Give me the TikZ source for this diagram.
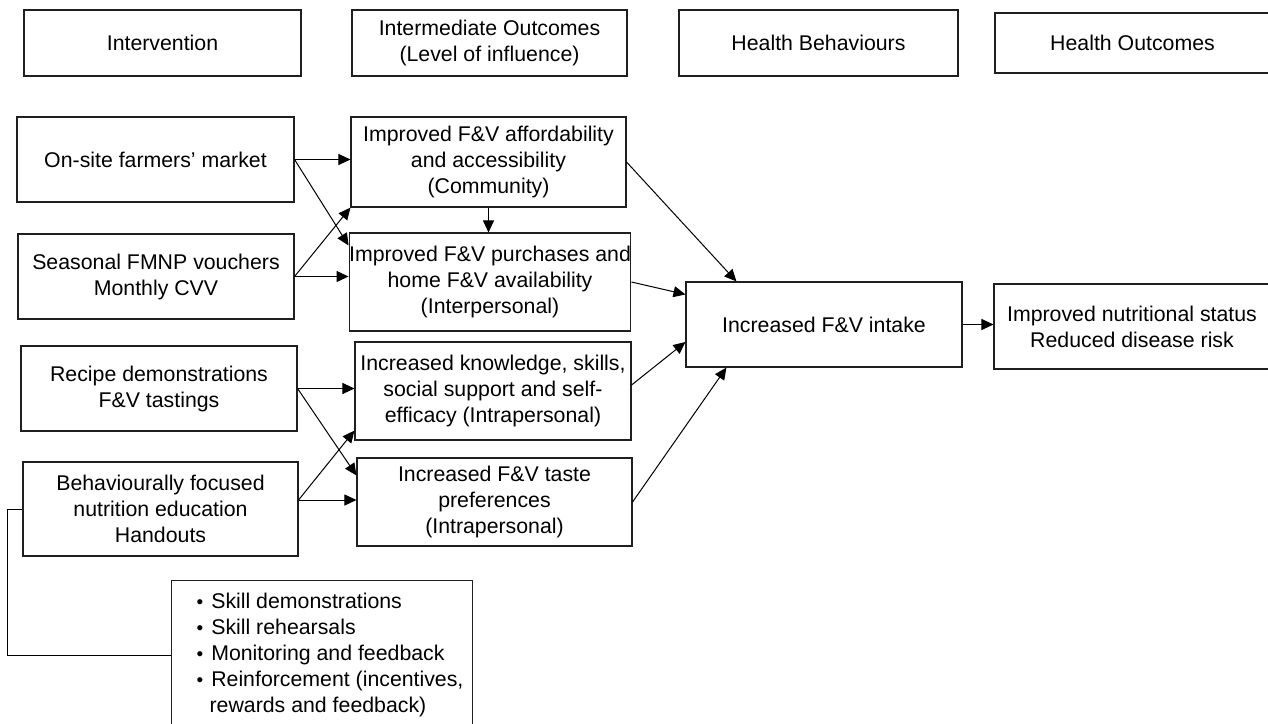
\documentclass[tikz,border=0pt]{standalone}
\usepackage{fontspec}
\setmainfont{Liberation Sans}
\usetikzlibrary{arrows.meta}
\begin{document}
\begin{tikzpicture}[x=1pt,y=-1pt,
  box/.style={draw=black!88, line width=1.1pt, inner sep=0pt, align=center,
    font=\fontsize{21.3}{26}\selectfont},
  arr/.style={draw=black, line width=1pt, -{Triangle[length=12pt,width=11pt]}},
  ln/.style={draw=black, line width=1pt}]
\useasboundingbox (0,0) rectangle (1268,723);

% headers
\node[box, minimum width=277pt, minimum height=66pt] (hInt) at (162.5,43) {Intervention};
\node[box, minimum width=275pt, minimum height=66pt] (hMid) at (489.5,43) {Intermediate Outcomes\\(Level of influence)};
\node[box, minimum width=279pt, minimum height=66pt] (hBeh) at (818.5,43) {Health Behaviours};
\node[box, minimum width=275pt, minimum height=60pt] (hOut) at (1132.5,43) {Health Outcomes};

% interventions
\node[box, minimum width=277pt, minimum height=85pt] (onsite) at (155.5,159.5) {On-site farmers’ market};
\node[box, minimum width=276pt, minimum height=85pt] (season) at (156,276.5) {Seasonal FMNP vouchers\\Monthly CVV};
\node[box, minimum width=276pt, minimum height=85pt] (recipe) at (159,388.5) {Recipe demonstrations\\F\&V tastings};
\node[box, minimum width=275pt, minimum height=94pt] (behav) at (160.5,509) {Behaviourally focused\\nutrition education\\Handouts};

% intermediate outcomes
\node[box, minimum width=275pt, minimum height=90pt] (afford) at (488.5,162) {Improved F\&V affordability\\and accessibility\\(Community)};
\node[box, minimum width=276pt, minimum height=98pt] (purch) at (490,282) {Improved F\&V purchases and\\home F\&V availability\\(Interpersonal)};
\node[box, minimum width=276pt, minimum height=98pt] (know) at (493,391) {Increased knowledge, skills,\\social support and self-\\efficacy (Intrapersonal)};
\node[box, minimum width=275pt, minimum height=88pt] (taste) at (494.5,502) {Increased F\&V taste\\preferences\\(Intrapersonal)};

% behaviours and outcomes
\node[box, minimum width=276pt, minimum height=85pt] (intake) at (824,324.5) {Increased F\&V intake};
\node[box, minimum width=276pt, minimum height=85pt] (nutr) at (1132,326.5) {Improved nutritional status\\Reduced disease risk};

% bullet box
\node[box, anchor=north west, minimum width=301pt, minimum height=150pt, align=left] (bullets) at (171,580)
  {\begin{tabular}{@{\hspace{16pt}}l@{\hspace{8pt}}l@{}}
   {\fontsize{19}{26}\selectfont •} & Skill demonstrations\\
   {\fontsize{19}{26}\selectfont •} & Skill rehearsals\\
   {\fontsize{19}{26}\selectfont •} & Monitoring and feedback\\
   {\fontsize{19}{26}\selectfont •} & Reinforcement (incentives,\\
   \multicolumn{2}{@{\hspace{29pt}}l@{}}{rewards and feedback)}
   \end{tabular}};

% connectors
\draw[arr] (onsite.east) -- (onsite.east -| afford.west);
\draw[arr] (onsite.east) -- ([yshift=-13pt]purch.north west);
\draw[arr] (season.east) -- (season.east -| purch.west);
\draw[arr] (season.east) -- (afford.south west);
\draw[arr] (afford.south) -- (afford.south |- purch.north);
\draw[arr] (afford.east) -- ([xshift=51pt]intake.north west);
\draw[arr] (purch.east) -- ([yshift=-13pt]intake.north west);

\draw[arr] (recipe.east) -- (recipe.east -| know.west);
\draw[arr] (recipe.east) -- ([yshift=-18pt]taste.north west);
\coordinate (bo) at ([yshift=9pt]behav.east);
\draw[arr] (bo) -- (bo -| taste.west);
\draw[arr] (bo) -- ([yshift=10pt]know.south west);
\draw[arr] ([yshift=6pt]know.east) -- ([yshift=-17.5pt]intake.west);
\draw[arr] (taste.east) -- ([xshift=41pt]intake.south west);
\draw[arr] (intake.east) -- (intake.east -| nutr.west);

\draw[ln] (behav.west) -- ++(-15,0) |- (bullets.west);
\end{tikzpicture}
\end{document}
